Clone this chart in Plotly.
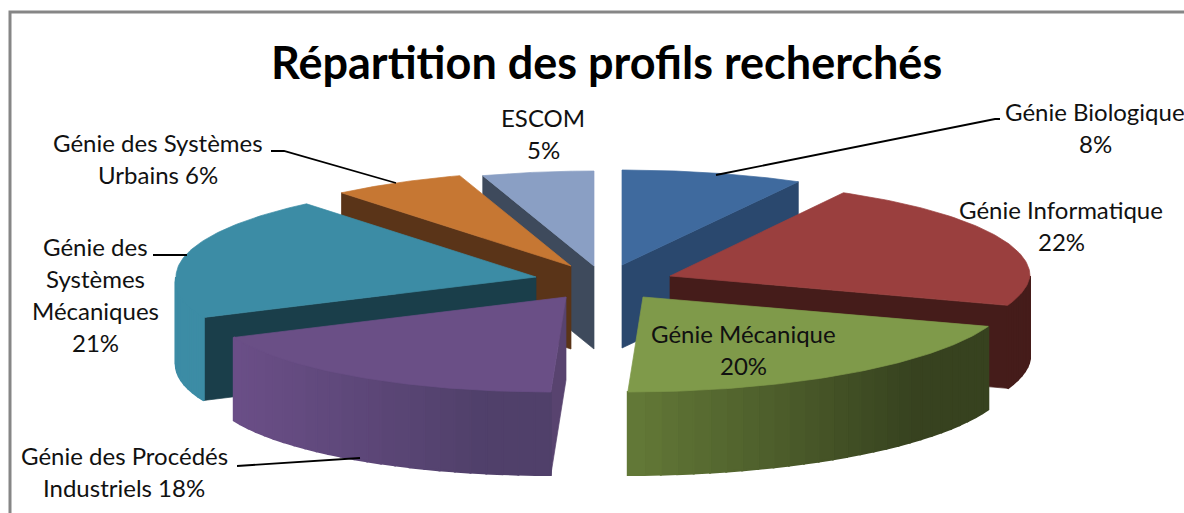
import numpy as np
import plotly.graph_objects as go

# --- data -----------------------------------------------------------------
categories = ["Génie Biologique", "Génie Informatique", "Génie Mécanique",
              "Génie des Procédés Industriels", "Génie des Systèmes Mécaniques",
              "Génie des Systèmes Urbains", "ESCOM"]
shares = [8, 22, 20, 18, 21, 6, 5]
label_lines = [["Génie Biologique", "8%"],
               ["Génie Informatique", "22%"],
               ["Génie Mécanique", "20%"],
               ["Génie des Procédés", "Industriels 18%"],
               ["Génie des", "Systèmes", "Mécaniques", "21%"],
               ["Génie des Systèmes", "Urbains 6%"],
               ["ESCOM", "5%"]]
title = "Répartition des profils recherchés"

# --- style / layout -------------------------------------------------------
W, H = 1184, 513
RY, DEPTH, SHEAR, CLIP_Y = 95, 83, 0.16, 476
slice_rx = [366, 360, 368, 360, 360, 360, 360]
apex = [(622, 265), (670, 276), (643, 297), (566, 297), (536, 277), (571, 266), (594, 266)]
top_col = ["#3F6A9E", "#9A3F3E", "#7F9A4A", "#6A4F86", "#3C8CA5", "#C67733", "#8A9FC4"]
face_col = ["#2A486E", "#451C1A", "#3F4B24", "#58436F", "#1A3E4A", "#5A3418", "#3E4A5C"]
wall_left = ["#2A486E", "#451C1A", "#647A38", "#6B4F88", "#3C8CA5", "#5A3418", "#3E4A5C"]
wall_right = ["#2A486E", "#451C1A", "#37421F", "#50406A", "#3C8CA5", "#5A3418", "#3E4A5C"]
paint_order = [6, 5, 0, 4, 1, 3, 2]
label_x = [1095, 1061, 743, 124, 95, 158, 543]
label_y = [111, 209, 333, 455, 246, 142, 117]
LINE_GAP = 32
leaders = [[(716, 175), (995, 119), (1000, 119)],
           [(1, 1)], [(1, 1)],
           [(237, 466), (360, 458)],
           [(153, 255), (187, 255)],
           [(271, 151), (284, 151), (396, 183)],
           [(1, 1)]]
has_leader = [True, False, False, True, True, True, False]

bounds = np.cumsum([0] + shares) / sum(shares) * 360.0


def rim(i, deg):
    t = np.radians(np.asarray(deg, dtype=float))
    ax, ay = apex[i]
    dy = -RY * np.cos(t)
    x = ax + slice_rx[i] * np.sin(t) - SHEAR * np.maximum(dy, 0)
    return x, ay + dy


def hex2rgb(c):
    return np.array([int(c[k:k + 2], 16) for k in (1, 3, 5)], dtype=float)


fig = go.Figure()


def poly(x, y, color, lw=0.7):
    fig.add_trace(go.Scatter(
        x=list(x), y=list(np.minimum(y, CLIP_Y)), mode="lines", fill="toself", fillcolor=color,
        line=dict(color=color, width=lw), hoverinfo="skip", showlegend=False))


for i in paint_order:
    s, e = bounds[i], bounds[i + 1]
    ax, ay = apex[i]
    # radial cut faces
    if s >= 180:
        rx_, ry_ = rim(i, s)
        poly([ax, rx_, rx_, ax, ax], [ay, ry_, ry_ + DEPTH, ay + DEPTH, ay], face_col[i])
    if e < 180:
        rx_, ry_ = rim(i, e)
        poly([ax, rx_, rx_, ax, ax], [ay, ry_, ry_ + DEPTH, ay + DEPTH, ay], face_col[i])
    # outer wall, split in shaded strips
    a, b = max(s, 90), min(e, 270)
    if a < b:
        n = max(2, int((b - a) / 2.5))
        edges = np.linspace(a, b, n + 1)
        xs0, _ = rim(i, [a])
        xs1, _ = rim(i, [b])
        lo, span = min(xs0[0], xs1[0]), max(1, abs(xs1[0] - xs0[0]))
        for k in range(n):
            d = np.linspace(edges[k], edges[k + 1], 6)
            x, y = rim(i, d)
            # the shade reaches its darkest value before the right end of the wall
            frac = min(1.0, (x.mean() - lo) / span * 1.25)
            rgb = hex2rgb(wall_left[i]) * (1 - frac) + hex2rgb(wall_right[i]) * frac
            c = "rgb(%d,%d,%d)" % tuple(rgb)
            poly(np.r_[x, x[::-1], x[0]], np.r_[y, y[::-1] + DEPTH, y[0]], c, lw=2)
    # top surface
    d = np.linspace(s, e, 80)
    x, y = rim(i, d)
    poly(np.r_[ax, x, ax], np.r_[ay, y, ay], top_col[i])

for i, pts in enumerate(leaders):
    if has_leader[i]:
        fig.add_trace(go.Scatter(x=[p[0] for p in pts], y=[p[1] for p in pts], mode="lines",
                                 line=dict(color="#000000", width=1.8),
                                 hoverinfo="skip", showlegend=False))

annotations = [dict(x=606, y=62, text="<b>%s</b>" % title, showarrow=False, xanchor="center",
                    yanchor="middle", font=dict(family="Lato", size=45, color="#000000"))]
for i, lines in enumerate(label_lines):
    for j, t in enumerate(lines):
        annotations.append(dict(x=label_x[i], y=label_y[i] + j * LINE_GAP, text=t, showarrow=False,
                                xanchor="center", yanchor="middle",
                                font=dict(family="Lato", size=24, color="#111111")))

fig.update_layout(
    width=W, height=H, margin=dict(l=0, r=0, t=0, b=0),
    paper_bgcolor="white", plot_bgcolor="white", showlegend=False,
    xaxis=dict(range=[0, W], visible=False, fixedrange=True),
    yaxis=dict(range=[H, 0], visible=False, fixedrange=True),
    annotations=annotations,
    shapes=[dict(type="rect", x0=10, y0=12, x1=W + 20, y1=H + 20,
                 line=dict(color="#868686", width=3), layer="below")],
)
fig.write_html("out.html", config=dict(displayModeBar=False),
               post_script="document.body.style.margin='0';document.body.style.overflow='hidden';")
